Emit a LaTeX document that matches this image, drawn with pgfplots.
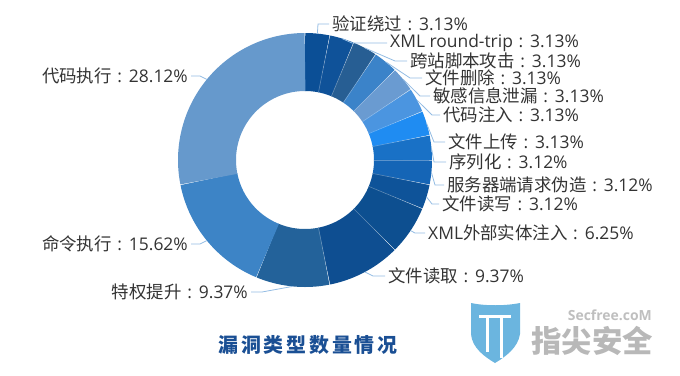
\documentclass[border=0pt]{standalone}
\usepackage{fontspec}
\usepackage{pgfplots}
\pgfplotsset{compat=1.18}
\setmainfont{Open Sans}
\newfontfamily\cjk{Noto Sans CJK SC}
\newfontfamily\cjkt[LetterSpace=14]{Noto Sans CJK SC}
\newcommand\sep{\hspace{0.32em}:\hspace{0.4em}}
\definecolor{c1}{HTML}{0B4F96}
\definecolor{c2}{HTML}{0F5299}
\definecolor{c3}{HTML}{275E93}
\definecolor{c4}{HTML}{3B83C9}
\definecolor{c5}{HTML}{6A9BD1}
\definecolor{c6}{HTML}{4B95E0}
\definecolor{c7}{HTML}{1F8CF2}
\definecolor{c8}{HTML}{1971C6}
\definecolor{c9}{HTML}{1565B6}
\definecolor{c10}{HTML}{0E5399}
\definecolor{c11}{HTML}{0D4F90}
\definecolor{c12}{HTML}{0E4E91}
\definecolor{c13}{HTML}{23629A}
\definecolor{c14}{HTML}{3D84C6}
\definecolor{c15}{HTML}{6699CC}
\definecolor{leadc}{HTML}{93BCE3}
\definecolor{txt}{HTML}{333333}
\definecolor{titleblue}{HTML}{1A4F94}
\definecolor{shield}{HTML}{6BB5DF}
\tikzset{
  slice/.style={line width=58bp,samples=12},
  lead/.style={leadc,line width=0.8bp},
  lab/.style={text=txt,font=\fontsize{17.5}{20}\selectfont,inner sep=0pt}}
\begin{document}
\begin{tikzpicture}
\useasboundingbox (0,0) rectangle (680bp,376bp);
\begin{axis}[at={(0,0)},anchor=south west,scale only axis,
  width=680bp,height=376bp,xmin=0,xmax=680,ymin=0,ymax=376,
  y dir=reverse,hide axis,clip=false]
% donut slices: domain = cumulative percentage, clockwise from top
\addplot[slice,c1,domain=0:3.125] ({305+98*cos(90-3.6*x)},{160-98*sin(90-3.6*x)});
\addplot[slice,c2,domain=3.125:6.25] ({305+98*cos(90-3.6*x)},{160-98*sin(90-3.6*x)});
\addplot[slice,c3,domain=6.25:9.375] ({305+98*cos(90-3.6*x)},{160-98*sin(90-3.6*x)});
\addplot[slice,c4,domain=9.375:12.5] ({305+98*cos(90-3.6*x)},{160-98*sin(90-3.6*x)});
\addplot[slice,c5,domain=12.5:15.625] ({305+98*cos(90-3.6*x)},{160-98*sin(90-3.6*x)});
\addplot[slice,c6,domain=15.625:18.75] ({305+98*cos(90-3.6*x)},{160-98*sin(90-3.6*x)});
\addplot[slice,c7,domain=18.75:21.875] ({305+98*cos(90-3.6*x)},{160-98*sin(90-3.6*x)});
\addplot[slice,c8,domain=21.875:25] ({305+98*cos(90-3.6*x)},{160-98*sin(90-3.6*x)});
\addplot[slice,c9,domain=25:28.125] ({305+98*cos(90-3.6*x)},{160-98*sin(90-3.6*x)});
\addplot[slice,c10,domain=28.125:31.25] ({305+98*cos(90-3.6*x)},{160-98*sin(90-3.6*x)});
\addplot[slice,c11,domain=31.25:37.5,samples=20] ({305+98*cos(90-3.6*x)},{160-98*sin(90-3.6*x)});
\addplot[slice,c12,domain=37.5:46.875,samples=28] ({305+98*cos(90-3.6*x)},{160-98*sin(90-3.6*x)});
\addplot[slice,c13,domain=46.875:56.25,samples=28] ({305+98*cos(90-3.6*x)},{160-98*sin(90-3.6*x)});
\addplot[slice,c14,domain=56.25:71.875,samples=40] ({305+98*cos(90-3.6*x)},{160-98*sin(90-3.6*x)});
\addplot[slice,c15,domain=71.875:100,samples=70] ({305+98*cos(90-3.6*x)},{160-98*sin(90-3.6*x)});
% faint separators
\pgfplotsinvokeforeach{3.125,6.25,9.375,12.5,15.625,18.75,21.875,25,28.125,31.25,37.5,46.875}{
\addplot[white,opacity=0.3,line width=0.6bp,domain=69:127,samples=2] ({305+x*cos(90-3.6*#1)},{160-x*sin(90-3.6*#1)});
}
% leader lines
\addplot[lead] coordinates {(317.4,33.6) (318,24) (329,24)};
\addplot[lead] coordinates {(341.9,38.5) (352,43) (387,43)};
\addplot[lead] coordinates {(364.9,48.0) (395,61) (407,61)};
\addplot[lead] coordinates {(385.6,61.8) (410,78) (422,78)};
\addplot[lead] coordinates {(403.2,79.4) (420,96) (430,96)};
\addplot[lead] coordinates {(417.0,100.1) (432,115) (440,115)};
\addplot[lead] coordinates {(426.5,123.1) (434,142) (445,142)};
\addplot[lead] coordinates {(431.4,147.6) (434,162) (446,162)};
\addplot[lead] coordinates {(431.4,172.4) (435,185) (444,185)};
\addplot[lead] coordinates {(426.5,196.9) (432,204) (439,204)};
\addplot[lead] coordinates {(410.6,230.6) (415,233) (425,233)};
\addplot[lead] coordinates {(364.9,272.0) (373,276) (385,276)};
\addplot[lead] coordinates {(292.6,286.4) (262,292) (251,292)};
\addplot[lead] coordinates {(206.8,240.6) (200,244) (191,244)};
\addplot[lead] coordinates {(206.8,79.4) (200,76) (191,76)};
% labels
\node[lab,anchor=west] at (axis cs:332,24) {{\cjk 验证绕过}\sep 3.13\%};
\node[lab,anchor=west] at (axis cs:390,43) {XML round-trip\sep 3.13\%};
\node[lab,anchor=west] at (axis cs:410,61) {{\cjk 跨站脚本攻击}\sep 3.13\%};
\node[lab,anchor=west] at (axis cs:425,78) {{\cjk 文件删除}\sep 3.13\%};
\node[lab,anchor=west] at (axis cs:433,96) {{\cjk 敏感信息泄漏}\sep 3.13\%};
\node[lab,anchor=west] at (axis cs:443,115) {{\cjk 代码注入}\sep 3.13\%};
\node[lab,anchor=west] at (axis cs:448,142) {{\cjk 文件上传}\sep 3.13\%};
\node[lab,anchor=west] at (axis cs:449,162) {{\cjk 序列化}\sep 3.12\%};
\node[lab,anchor=west] at (axis cs:447,185) {{\cjk 服务器端请求伪造}\sep 3.12\%};
\node[lab,anchor=west] at (axis cs:442,204) {{\cjk 文件读写}\sep 3.12\%};
\node[lab,anchor=west] at (axis cs:428,233) {XML{\cjk 外部实体注入}\sep 6.25\%};
\node[lab,anchor=west] at (axis cs:388,276) {{\cjk 文件读取}\sep 9.37\%};
\node[lab,anchor=east] at (axis cs:248,292) {{\cjk 特权提升}\sep 9.37\%};
\node[lab,anchor=east] at (axis cs:188,244) {{\cjk 命令执行}\sep 15.62\%};
\node[lab,anchor=east] at (axis cs:188,76) {{\cjk 代码执行}\sep 28.12\%};
% title
\node[text=titleblue,inner sep=0pt,font=\fontsize{20}{24}\selectfont] at (axis cs:308,345) {\cjkt\bfseries 漏洞类型数量情况};
% watermark
\fill[shield] (axis cs:471,303) .. controls (axis cs:485,306) and (axis cs:505,306) .. (axis cs:520,303)
  -- (axis cs:520,334) .. controls (axis cs:518,348) and (axis cs:505,357) .. (axis cs:495,363)
  .. controls (axis cs:485,357) and (axis cs:472,348) .. (axis cs:471,334) -- cycle;
\draw[white,line width=3bp] (axis cs:479,316) -- (axis cs:511,316);
\draw[white,line width=3bp] (axis cs:487,316) -- (axis cs:487,352);
\draw[white,line width=3bp] (axis cs:501,316) -- (axis cs:501,358);
\node[anchor=east,inner sep=0pt,text=black!25,font=\fontsize{14}{16}\selectfont\bfseries] at (axis cs:652,315) {Secfree.coM};
\node[anchor=east,inner sep=0pt,text=black!28,font=\fontsize{30.5}{33}\selectfont] at (axis cs:653,341) {\cjk\bfseries 指尖安全};
\end{axis}
\end{tikzpicture}
\end{document}
